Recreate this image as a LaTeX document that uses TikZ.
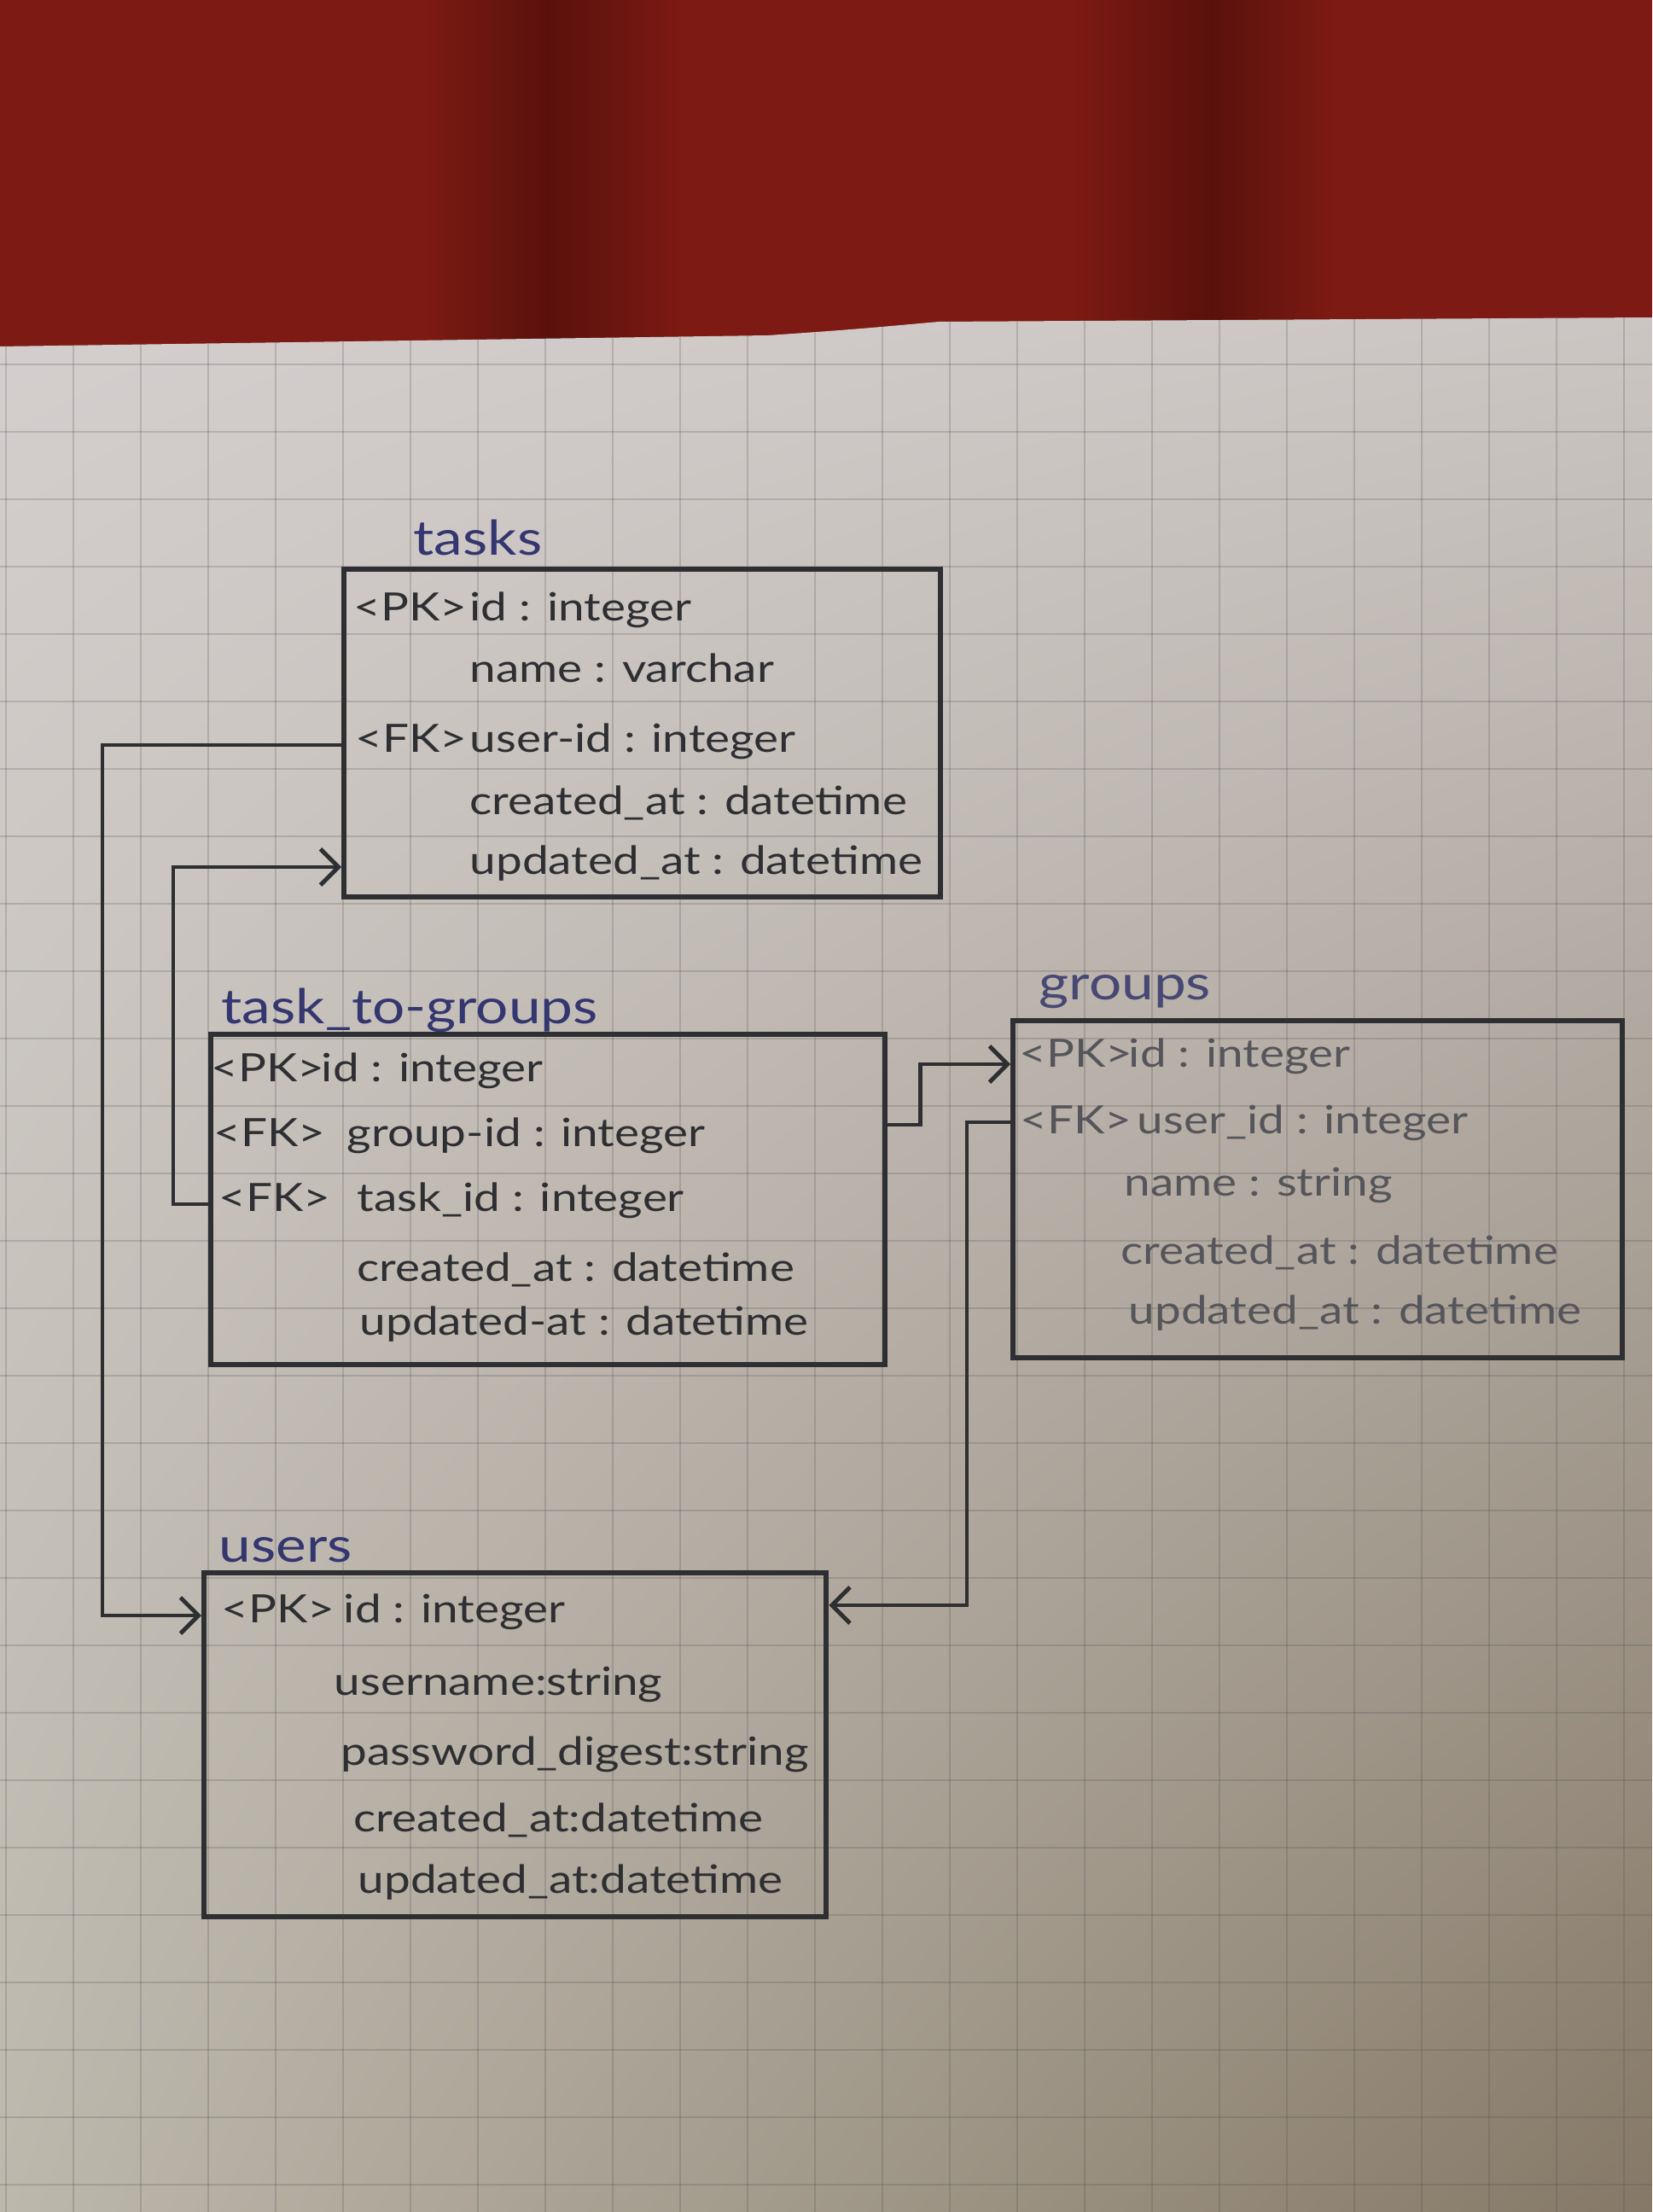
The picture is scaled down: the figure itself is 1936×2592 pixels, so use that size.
\documentclass[tikz,border=0pt]{standalone}
\usepackage{fontspec}
\setmainfont[FakeStretch=1.2]{Lato}
\usetikzlibrary{arrows.meta,calc,shadings}
\definecolor{cloth}{HTML}{7C1A13}
\definecolor{clothdark}{HTML}{5A110C}
\definecolor{paperUL}{HTML}{D4CFCE}
\definecolor{paperUR}{HTML}{CBC6C3}
\definecolor{paperLL}{HTML}{BCB8AC}
\definecolor{paperLR}{HTML}{857866}
\definecolor{ink}{HTML}{2E2F33}
\definecolor{softink}{HTML}{55565C}
\definecolor{blueink}{HTML}{34366F}
\newcommand\ktag[2]{\makebox[#1][l]{#2}}
\begin{document}
\begin{tikzpicture}[x=0.01cm,y=-0.01cm,
  entity/.style={draw=ink, line width=1.7pt, rectangle, inner sep=0pt, anchor=north west},
  row/.style={anchor=mid west, inner sep=0pt, text=ink, font=\fontsize{13}{16}\selectfont},
  softrow/.style={row, text=softink},
  title/.style={anchor=mid west, inner sep=0pt, text=blueink, font=\fontsize{16}{19}\selectfont},
  conn/.style={draw=ink, line width=1.4pt, -{Straight Barb[length=6pt,width=12pt,line width=1.4pt]}},
  gridline/.style={draw=black!70, draw opacity=0.22, line width=0.8pt}]
\useasboundingbox (0,0) rectangle (1936,2592);
% cloth
\fill[cloth] (0,0) rectangle (1936,420);
\shade[left color=cloth, right color=clothdark] (500,0) rectangle (642,420);
\shade[left color=clothdark, right color=cloth] (642,0) rectangle (800,420);
\shade[left color=cloth, right color=clothdark] (1260,0) rectangle (1420,420);
\shade[left color=clothdark, right color=cloth] (1420,0) rectangle (1560,420);
% paper
\begin{scope}
\clip (0,406) -- (900,393) .. controls (1000,386) .. (1100,377) -- (1936,372) -- (1936,2592) -- (0,2592) -- cycle;
\shade[upper left=paperUL, upper right=paperUR, lower left=paperLL, lower right=paperLR] (0,370) rectangle (1936,2592);
\foreach \x in {7,86,...,1936} \draw[gridline] (\x,360) -- (\x,2592);
\foreach \y in {427,506,...,2592} \draw[gridline] (0,\y) -- (1936,\y);
\end{scope}

% entity boxes
\node[entity, minimum width=6.99cm, minimum height=3.84cm] (tasks) at (400,664) {};
\node[entity, minimum width=7.90cm, minimum height=3.87cm] (ttg) at (244,1209) {};
\node[entity, minimum width=7.14cm, minimum height=3.95cm] (groups) at (1184,1193) {};
\node[entity, minimum width=7.29cm, minimum height=4.03cm] (users) at (236,1840) {};

% tasks
\node[title] (ttasks) at (484,642) {tasks};
\node[row] (tpk) at (414,719) {\ktag{1.36cm}{<PK>}id : integer};
\node[row] (tname) at (550,791) {name : varchar};
\node[row] (tfk) at (416,873) {\ktag{1.34cm}{<FK>}user-id : integer};
\node[row] (tcre) at (550,946) {created\_at : datetime};
\node[row] (tupd) at (550,1016) {updated\_at : datetime};

% task_to-groups
\node[title] (tttg) at (259,1191) {task\_to-groups};
\node[row] (ppk) at (247,1259) {\ktag{1.29cm}{<PK>}id : integer};
\node[row] (pgid) at (250,1335) {\ktag{1.56cm}{<FK>}group-id : integer};
\node[row] (ptid) at (256,1411) {\ktag{1.62cm}{<FK>}task\_id : integer};
\node[row] (pcre) at (418,1493) {created\_at : datetime};
\node[row] (pupd) at (421,1556) {updated-at : datetime};

% groups
\node[title, text=blueink!75!gray] (tgroups) at (1217,1163) {groups};
\node[softrow] (gpk) at (1194,1242) {\ktag{1.28cm}{<PK>}id : integer};
\node[softrow] (gfk) at (1195,1320) {\ktag{1.37cm}{<FK>}user\_id : integer};
\node[softrow] (gname) at (1317,1393) {name : string};
\node[softrow] (gcre) at (1313,1473) {created\_at : datetime};
\node[softrow] (gupd) at (1322,1543) {updated\_at : datetime};

% users
\node[title] (tusers) at (256,1822) {users};
\node[row] (upk) at (259,1893) {\ktag{1.43cm}{<PK>}id : integer};
\node[row] (uname) at (391,1978) {username:string};
\node[row] (upw) at (399,2060) {password\_digest:string};
\node[row] (ucre) at (414,2138) {created\_at:datetime};
\node[row] (uupd) at (419,2210) {updated\_at:datetime};

% connectors
\draw[conn] (tasks.west |- tfk.mid) -- ++(-280,0) |- (users.west |- upk.mid);
\draw[conn] (ttg.west |- ptid.mid) -- ++(-41,0) |- (tasks.west |- tupd.mid);
\draw[conn] ($(ttg.east |- pgid.mid)+(0,-17)$) -- ++(38,0) |- ($(groups.west |- gpk.mid)+(0,5)$);
\draw[conn] ($(groups.west |- gfk.mid)+(0,-5)$) -- ++(-51,0) |- ($(users.east |- upk.mid)+(0,-12)$);
\end{tikzpicture}
\end{document}
